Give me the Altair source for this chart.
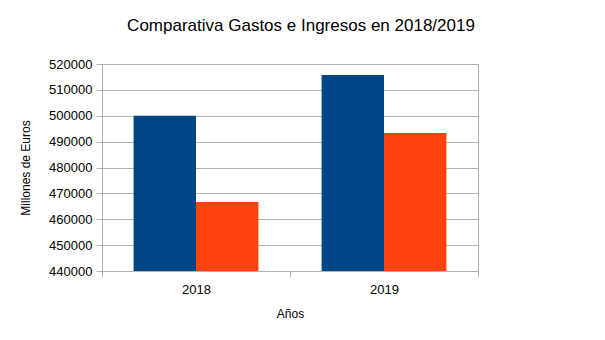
import altair as alt
import pandas as pd

years = ["2018", "2019"]
series = ["Gastos", "Ingresos"]
gastos = [500000, 515750]
ingresos = [466700, 493300]
y_ticks = [440000, 450000, 460000, 470000, 480000, 490000, 500000, 510000, 520000]
colors = ["#004586", "#ff420e"]

rows = []
for i, yr in enumerate(years):
    rows.append({"Año": yr, "Serie": series[0], "Valor": gastos[i]})
    rows.append({"Año": yr, "Serie": series[1], "Valor": ingresos[i]})
df = pd.DataFrame(rows)

FONT = "Liberation Sans"
GRAY = "#b3b3b3"

chart = alt.Chart(df).mark_bar().encode(
    x=alt.X(
        "Año:N",
        title="Años",
        scale=alt.Scale(paddingInner=0, paddingOuter=0),
        axis=alt.Axis(labelAngle=0, tickBand="extent", grid=False, labelPadding=6,
                      titlePadding=12, tickSize=6),
    ),
    xOffset=alt.XOffset("Serie:N", sort=series,
                        scale=alt.Scale(paddingInner=0, paddingOuter=0.506)),
    y=alt.Y(
        "Valor:Q",
        title="Millones de Euros",
        scale=alt.Scale(domain=[440000, 520000], zero=False, nice=False),
        axis=alt.Axis(values=y_ticks, format="d", tickSize=6, labelPadding=4, titlePadding=16),
    ),
    y2=alt.datum(440000),
    color=alt.Color("Serie:N", scale=alt.Scale(domain=series, range=colors), legend=None),
).properties(
    width=376,
    height=207,
    title=alt.TitleParams("Comparativa Gastos e Ingresos en 2018/2019", anchor="middle", dx=11, offset=23),
    padding={"left": 102, "top": 64, "right": 127, "bottom": 69},
    autosize="none",
    background="#ffffff",
).configure_view(
    stroke=GRAY, strokeWidth=1
).configure_axis(
    domainColor=GRAY, tickColor=GRAY, gridColor=GRAY,
    labelFont=FONT, titleFont=FONT, labelFontSize=13, titleFontSize=12,
    labelColor="#000000", titleColor="#000000", titleFontWeight="normal",
).configure_title(
    font=FONT, fontSize=17, fontWeight="normal", color="#000000",
)

chart.save("out.html", embed_options={"renderer": "svg", "actions": False})
